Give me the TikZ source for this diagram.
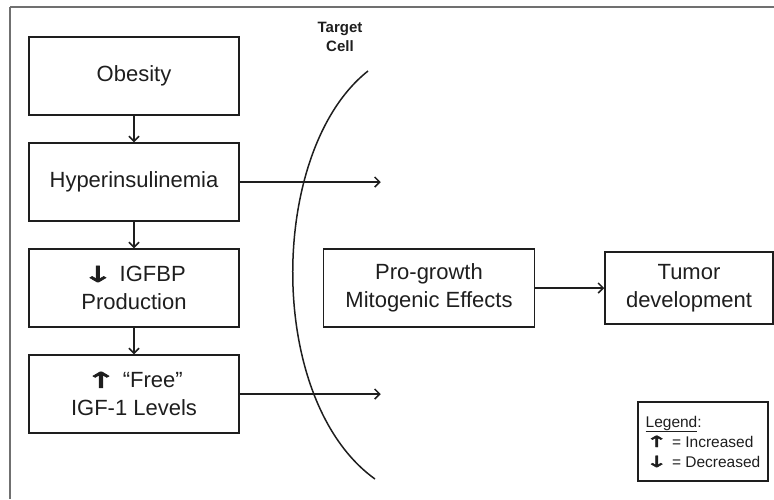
\documentclass[tikz,border=0pt]{standalone}
\usepackage{fontspec}
\usepackage{graphicx}
\setmainfont{Liberation Sans}
\newfontfamily\arrowfont{DejaVu Sans}[FakeBold=2.5]
\usepackage{tikz}
\usetikzlibrary{positioning}
\usetikzlibrary{arrows.meta}
\definecolor{ink}{RGB}{30,30,30}
\definecolor{framegray}{RGB}{112,112,112}
\newcommand{\Up}{\scalebox{1.7}[1]{\arrowfont ↑}}
\newcommand{\Down}{\scalebox{1.7}[1]{\arrowfont ↓}}

\begin{document}
\begin{tikzpicture}[x=1pt,y=-1pt,
  box/.style={draw=ink,line width=1.5pt,minimum width=210pt,minimum height=78pt,
    inner sep=2pt,align=center,text=ink,font=\fontsize{22}{28}\selectfont},
  tumorbox/.style={box,minimum width=168pt,minimum height=72pt},
  flow/.style={ink,line width=1.5pt,-{Straight Barb[length=5pt,width=10pt]}},
  wall/.style={draw=ink,line width=1.5pt},
  celllabel/.style={align=center,text=ink,font=\bfseries\fontsize{15}{19}\selectfont},
  keybox/.style={draw=ink,line width=1.5pt,minimum width=130pt,minimum height=79pt,
    align=left,text=ink,font=\fontsize{15.5}{20}\selectfont}]
  \useasboundingbox (0,0) rectangle (774,499);
  \draw[framegray,line width=2.5pt] (10,7) -- (774,7);
  \draw[framegray,line width=1.2pt] (10,7) -- (10,499);
  \node[box] (obesity) at (134,76) {Obesity};
  \node[box,below=26.5pt of obesity] (hyper) {Hyperinsulinemia};
  \node[box,below=26.5pt of hyper] (igfbp) {\Down{} IGFBP\\Production};
  \node[box,below=26.5pt of igfbp] (free) {\Up{} “Free”\\IGF-1 Levels};
  \node[box,minimum width=211pt,right=83pt of igfbp] (pro) {Pro-growth\\Mitogenic Effects};
  \node[tumorbox,right=69pt of pro] (tumor) {Tumor\\development};
  \node[celllabel] (target) at (340,37) {Target\\Cell};
  \coordinate (wall-top) at (368,71);
  \coordinate (wall-bottom) at (375,479);
  \draw[wall] (wall-top) .. controls (268,150) and (265,400) .. (wall-bottom);
  \coordinate (hyper-end) at ([xshift=141pt]hyper.east);
  \coordinate (free-end) at ([xshift=141pt]free.east);
  \path[flow]
    (obesity) edge (hyper)
    (hyper) edge (igfbp)
    (igfbp) edge (free)
    (hyper.east) edge (hyper-end)
    (free.east) edge (free-end)
    (pro) edge (tumor);
  \node[keybox] (key) at (703,441.5) {\underline{Legend}:\\\Up{} = Increased\\\Down{} = Decreased};
\end{tikzpicture}
\end{document}
